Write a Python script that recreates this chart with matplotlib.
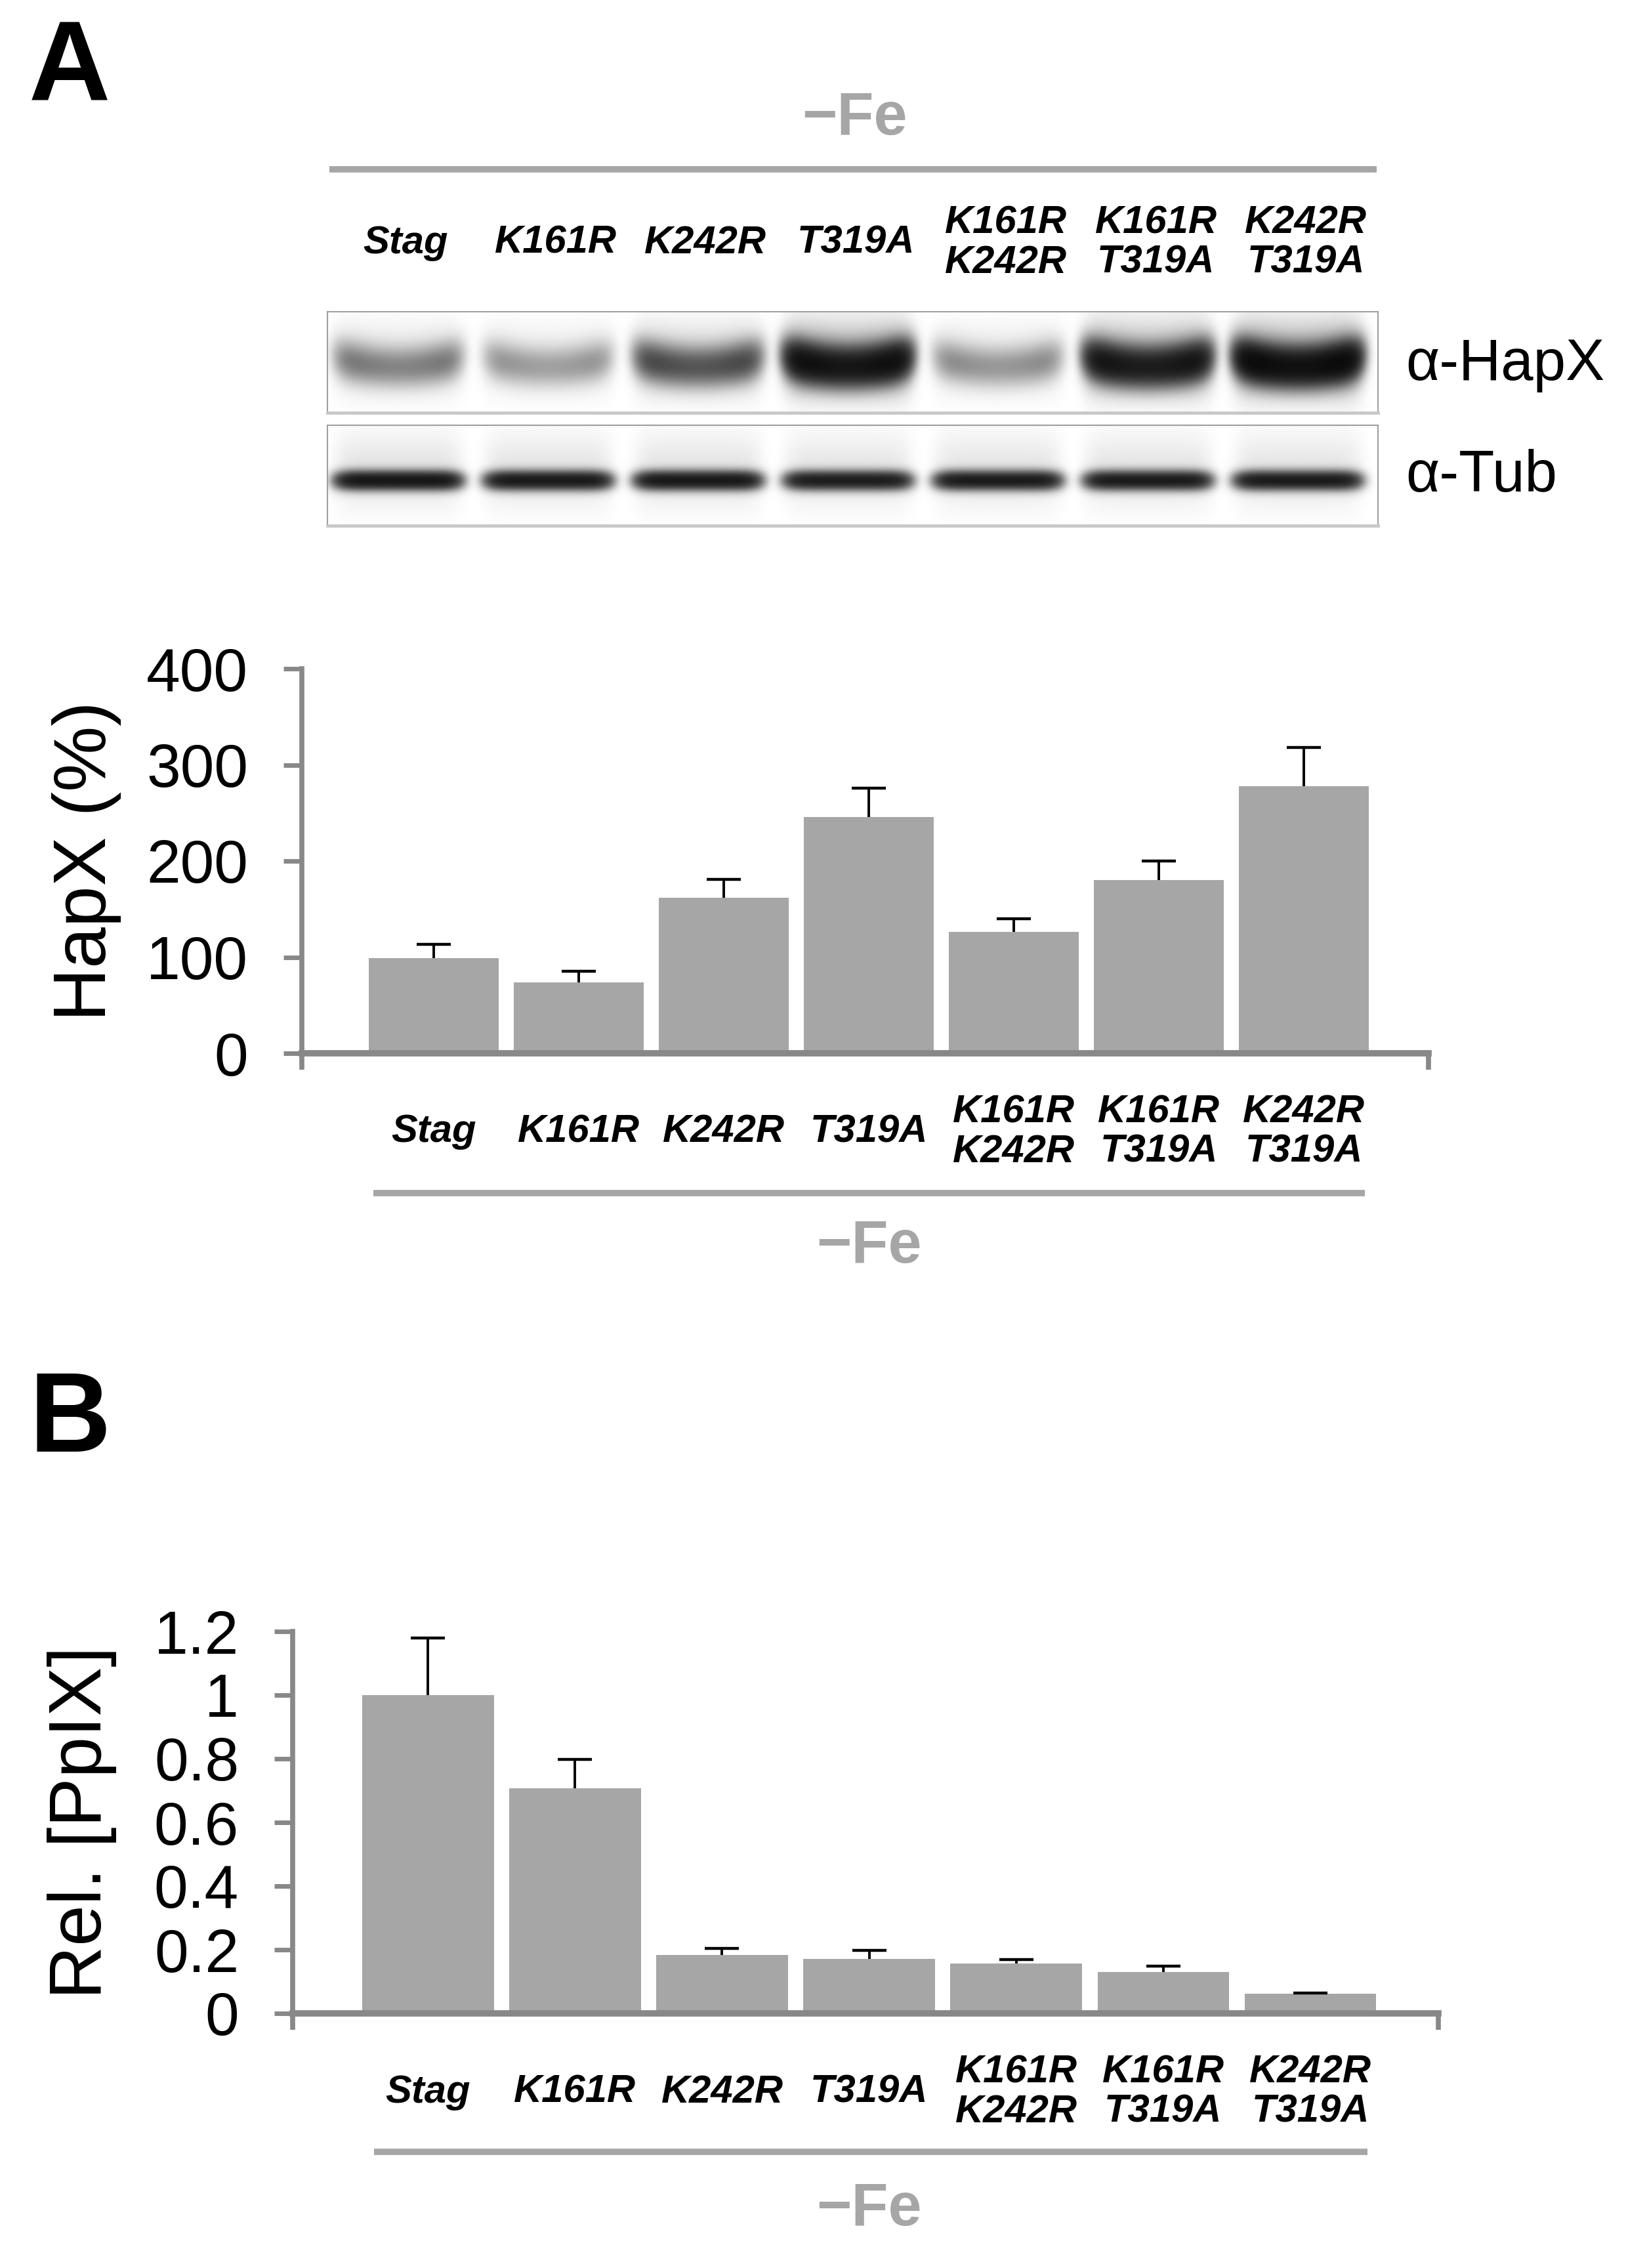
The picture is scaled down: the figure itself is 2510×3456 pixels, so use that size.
import numpy as np
import matplotlib
matplotlib.use("Agg")
import matplotlib.pyplot as plt
from matplotlib import transforms
from matplotlib.lines import Line2D

plt.rcParams['font.family'] = ['Liberation Sans', 'DejaVu Sans']

# data
strains = ["Stag", "K161R", "K242R", "T319A", "K161R\nK242R", "K161R\nT319A", "K242R\nT319A"]
hapx_pct = [99, 74, 162, 246, 126, 180, 278]
hapx_err = [14, 11, 19, 30, 14, 20, 40]
ppix_rel = [1.00, 0.708, 0.184, 0.172, 0.157, 0.130, 0.061]
ppix_err = [0.18, 0.09, 0.02, 0.026, 0.013, 0.019, 0.003]
# relative band intensities on the western blot
hapx_band = [0.24, 0.17, 0.40, 0.90, 0.19, 0.80, 1.00]
tub_band = [0.95, 0.90, 0.92, 0.85, 0.88, 0.88, 0.88]

W, H = 2510, 3456
BAR = "#a6a6a6"
AXC = "#888888"
FE = "#a6a6a6"

fig = plt.figure(figsize=(W / 100, H / 100), dpi=100)


def fx(px):
    return px / W


def fy(py):
    return 1 - py / H


def hline(x0, x1, y, lw=7):
    fig.add_artist(Line2D([fx(x0), fx(x1)], [fy(y), fy(y)], color=FE, lw=lw,
                          transform=fig.transFigure, solid_capstyle='butt'))


def fe_label(x, y):
    fig.text(fx(x), fy(y), "\u2212Fe", color=FE, fontsize=66, fontweight='bold',
             ha='center', va='center')


def bar_panel(rect, vals, errs, ylim, yticks, yticklabels, ylabel, ylab_x, xlim):
    ax = fig.add_axes(rect)
    x = np.arange(len(vals))
    vals = np.asarray(vals)
    tops = vals + np.asarray(errs)
    ax.bar(x, vals, width=0.895, color=BAR, zorder=2)
    # upper error bars only
    ax.vlines(x, vals, tops, color='black', lw=2.8, zorder=3)
    ax.plot(x, tops, ls='none', marker='_', ms=38, mew=3.2, color='black', zorder=3)
    ax.set_xlim(*xlim)
    ax.set_ylim(*ylim)
    ax.set_yticks(yticks)
    ax.set_yticklabels(yticklabels)
    ax.set_xticks([xlim[0], xlim[1]])
    ax.set_xticklabels([])
    for s in ['top', 'right']:
        ax.spines[s].set_visible(False)
    ax.spines['left'].set_color(AXC)
    ax.spines['left'].set_linewidth(5.5)
    ax.spines['bottom'].set_color(AXC)
    ax.spines['bottom'].set_linewidth(7)
    ax.spines['bottom'].set_zorder(4)
    ax.tick_params(axis='y', direction='out', length=20, width=5, color=AXC,
                   labelsize=67, pad=39)
    ax.tick_params(axis='x', direction='out', length=18, width=5.5, color=AXC)
    fig.text(ylab_x, rect[1] + rect[3] / 2, ylabel, rotation=90, fontsize=81,
             ha='center', va='center')
    return ax


def cat_labels(trans, xs, y):
    for xi, lab in zip(xs, strains):
        fig.text(xi, fy(y), lab, transform=trans, fontsize=43, fontweight='bold',
                 fontstyle='italic', ha='center', va='center', linespacing=1.12)


# ---- panel A ----
fig.text(fx(44), fy(108), "A", fontsize=124, fontweight='bold', ha='left', va='center')
fe_label(1302, 181)
hline(502, 2098, 258)

# blot
lane_x = np.linspace(-0.47, 6.53, 900)


def blot(rect, inten, yc, sig, smile, haze, edge):
    ax = fig.add_axes(rect)
    yy = np.linspace(0, 1, 220)[:, None]
    xx = lane_x[None, :]
    img = np.zeros((yy.shape[0], xx.shape[1]))
    for i, v in enumerate(inten):
        dx = (xx - i) / 0.42
        hprof = np.exp(-dx ** 8) * (1 + edge * dx ** 2)
        yc_i = yc + smile * dx ** 2
        img += v * hprof * np.exp(-0.5 * ((yy - yc_i) / sig) ** 2)
        img += haze * v * hprof * np.exp(-0.5 * ((yy - yc + 0.1) / 0.25) ** 2)
    img = 1 - np.exp(-2.4 * img)
    ax.imshow(img, cmap='gray_r', vmin=0, vmax=1, aspect='auto',
              extent=[lane_x[0], lane_x[-1], 1, 0], interpolation='bilinear')
    ax.set_xticks([])
    ax.set_yticks([])
    for s in ax.spines.values():
        s.set_color("#a0a0a0")
        s.set_linewidth(1.5)
    ax.spines['bottom'].set_linewidth(3.5)
    ax.spines['bottom'].set_color("#c8c8c8")
    return ax


bx0, bx1 = 499, 2100
ax_b1 = blot([fx(bx0), fy(629), fx(bx1 - bx0), (629 - 475) / H], hapx_band,
             0.55, 0.13, -0.10, 0.15, 0.35)
ax_b2 = blot([fx(bx0), fy(801), fx(bx1 - bx0), (801 - 648) / H], tub_band,
             0.55, 0.06, 0.0, 0.05, 0.0)
fig.text(fx(2142), fy(556), "\u03b1-HapX", fontsize=64, ha='left', va='center')
fig.text(fx(2142), fy(726), "\u03b1-Tub", fontsize=64, ha='left', va='center')

tr_blot = transforms.blended_transform_factory(ax_b1.transData, fig.transFigure)
cat_labels(tr_blot, np.arange(len(strains)) + 0.05, 370)

# bar chart A
axA = bar_panel([fx(460), fy(1605), fx(2177 - 460), (1605 - 1019) / H],
                hapx_pct, hapx_err, (0, 400), [0, 100, 200, 300, 400],
                ["0", "100", "200", "300", "400"], "HapX (%)", fx(132), (-0.91, 6.86))
trA = transforms.blended_transform_factory(axA.transData, fig.transFigure)
cat_labels(trA, np.arange(len(strains)), 1725)
hline(569, 2080, 1818)
fe_label(1324, 1900)

# ---- panel B ----
fig.text(fx(44), fy(2168), "B", fontsize=124, fontweight='bold', ha='left', va='center')
axB = bar_panel([fx(446), fy(3068), fx(2192 - 446), (3068 - 2486) / H],
                ppix_rel, ppix_err, (0, 1.2), [0, 0.2, 0.4, 0.6, 0.8, 1.0, 1.2],
                ["0", "0.2", "0.4", "0.6", "0.8", "1", "1.2"], "Rel. [PpIX]", fx(125),
                (-0.92, 6.87))
trB = transforms.blended_transform_factory(axB.transData, fig.transFigure)
cat_labels(trB, np.arange(len(strains)), 3188)
hline(570, 2084, 3279)
fe_label(1324, 3367)

fig.savefig("out.png", dpi=100)
